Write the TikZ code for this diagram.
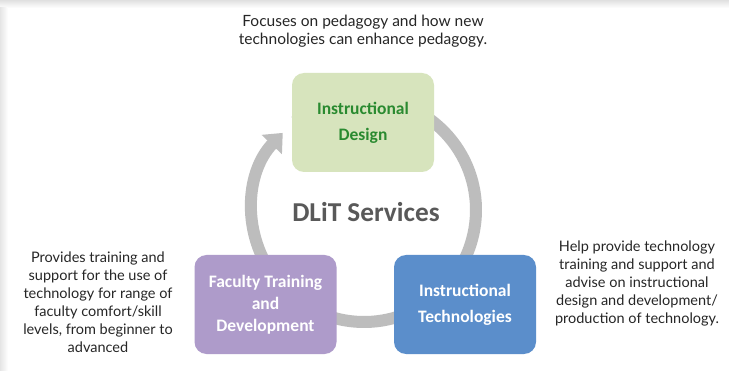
\documentclass[tikz,border=0pt]{standalone}
\usepackage{fontspec}
\setmainfont{Lato}
\newfontfamily\calfont{Carlito}
\usetikzlibrary{arrows.meta}
\definecolor{idfill}{HTML}{D7E4BD}
\definecolor{idtext}{HTML}{2A8A30}
\definecolor{ftfill}{HTML}{AE9BCA}
\definecolor{itfill}{HTML}{5B8ECB}
\definecolor{arcgray}{HTML}{BDBDBD}
\definecolor{txtdark}{HTML}{262626}
\begin{document}
\begin{tikzpicture}[x=1pt,y=1pt,
  service/.style={rounded corners=12pt, minimum width=142pt, minimum height=99pt,
    align=center, font=\calfont\bfseries\fontsize{17.5}{26}\selectfont, inner sep=0pt},
  note/.style={align=center, text=txtdark, font=\fontsize{14.5}{18}\selectfont, inner sep=0pt}]
\useasboundingbox (0,0) rectangle (729,370);
\fill[white] (0,0) rectangle (729,370);
\shade[top color=black!12, bottom color=white] (0,362) rectangle (729,370);
\shade[left color=black!10, right color=white] (0,0) rectangle (8,362);
% cycle arc
\coordinate (c) at (364,160);
\draw[arcgray, line width=12pt, -{Triangle[width=27pt,length=16pt]}]
  (c) ++(128:112) arc[start angle=128, end angle=-223.5, radius=112];
% boxes
\node[service, fill=idfill, text=idtext] (id) at (363,247.5) {Instructional\\Design};
\node[service, fill=ftfill, text=white, font=\calfont\bfseries\fontsize{17.5}{22}\selectfont] (ft) at (265.5,65.5) {Faculty Training\\and\\Development};
\node[service, fill=itfill, text=white] (it) at (465,65.5) {Instructional\\Technologies};
\node[text=black!65, font=\calfont\bfseries\fontsize{27.3}{30}\selectfont] (dlit) at (366,158) {DLiT Services};
% notes
\node[note, font=\fontsize{15.5}{18.5}\selectfont] (topnote) at (363,339) {Focuses on pedagogy and how new\\technologies can enhance pedagogy.};
\node[note] (leftnote) at (98,68) {Provides training and\\support for the use of\\technology for range of\\faculty comfort/skill\\levels, from beginner to\\advanced};
\node[note] (rightnote) at (637,87) {Help provide technology\\training and support and\\advise on instructional\\design and development/\\production of technology.};
\end{tikzpicture}
\end{document}
